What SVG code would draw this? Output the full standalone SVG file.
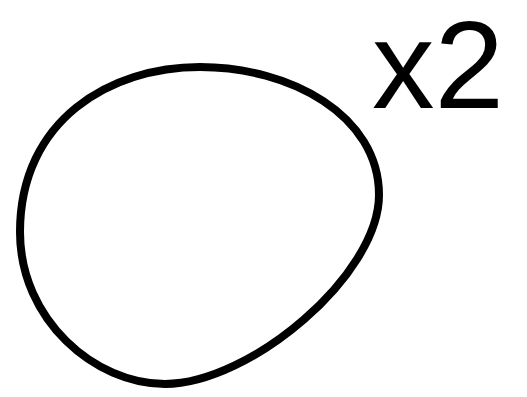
<svg xmlns="http://www.w3.org/2000/svg" width="527" height="397" viewBox="0 0 527 397">
<style>
.blob{fill:none;stroke:#000;stroke-width:8}
.lbl{font-family:"Liberation Sans",Arial,sans-serif;fill:#000}
</style>
<rect width="527" height="397" fill="#fff"/>
<g id="blob">
<path class="blob" d="M200,67 C290,67 379,115 379,195 C379,275 250,384 165,384 C95,384 20,320 20,232 C20,120 110,67 200,67 Z"/>
</g>
<g id="label">
<text class="lbl" x="372" y="108" font-size="125">x2</text>
</g>
</svg>
